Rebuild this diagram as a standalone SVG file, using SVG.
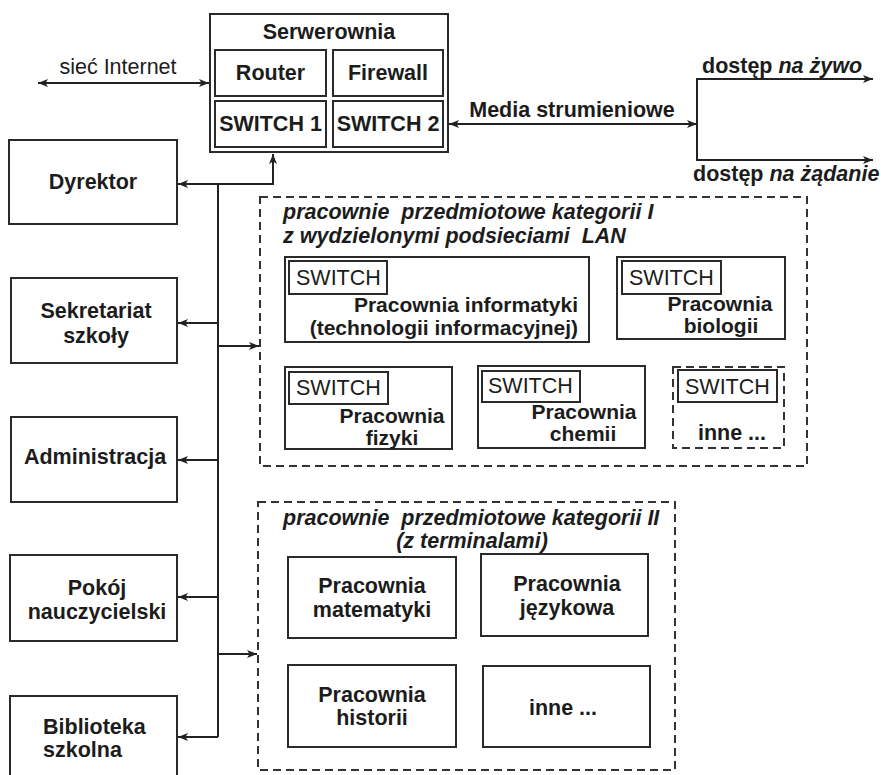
<svg xmlns="http://www.w3.org/2000/svg" width="881" height="775" viewBox="0 0 881 775">
<defs>
<marker id="ah" viewBox="0 0 10 8" refX="10" refY="4" markerWidth="10" markerHeight="8" markerUnits="userSpaceOnUse" orient="auto-start-reverse">
<path d="M0,0 L10,4 L0,8 L2.5,4 Z" fill="#222"/>
</marker>
</defs>
<style>
.box{fill:#fff;stroke:#2a2a2a;stroke-width:2}
.dash{fill:none;stroke:#333;stroke-width:2;stroke-dasharray:8 5}
.ln{fill:none;stroke:#222;stroke-width:2}
text{font-family:"Liberation Sans",Arial,sans-serif;font-size:21.5px;fill:#1c1c1c}
.s{font-size:21px}
.b{font-weight:bold}
.c{text-anchor:middle}
.i{font-style:italic;font-weight:bold}
.r{font-weight:normal}
.pre{white-space:pre}
</style>
<rect width="881" height="775" fill="#fff"/>

<g id="connectors">
<line class="ln" x1="38" y1="83" x2="209" y2="83" marker-start="url(#ah)" marker-end="url(#ah)"/>
<line class="ln" x1="449" y1="124" x2="697" y2="124" marker-start="url(#ah)" marker-end="url(#ah)"/>
<line class="ln" x1="697" y1="79" x2="697" y2="160"/>
<line class="ln" x1="696" y1="79" x2="873" y2="79" marker-end="url(#ah)"/>
<line class="ln" x1="696" y1="160" x2="873" y2="160" marker-end="url(#ah)"/>
<line class="ln" x1="218" y1="184" x2="218" y2="737"/>
<polyline class="ln" points="218,184 273,184 273,154" marker-end="url(#ah)"/>
<line class="ln" x1="218" y1="184" x2="178" y2="184" marker-end="url(#ah)"/>
<line class="ln" x1="218" y1="323" x2="178" y2="323" marker-end="url(#ah)"/>
<line class="ln" x1="218" y1="346" x2="259" y2="346" marker-end="url(#ah)"/>
<line class="ln" x1="218" y1="460" x2="178" y2="460" marker-end="url(#ah)"/>
<line class="ln" x1="218" y1="597" x2="178" y2="597" marker-end="url(#ah)"/>
<line class="ln" x1="218" y1="654" x2="257" y2="654" marker-end="url(#ah)"/>
<line class="ln" x1="218" y1="737" x2="178" y2="737" marker-end="url(#ah)"/>
</g>

<g id="labels">
<text x="118" y="74" class="c">sieć Internet</text>
<text x="572" y="117" class="b c">Media strumieniowe</text>
<text x="702" y="73" class="b">dostęp <tspan class="i">na żywo</tspan></text>
<text x="693" y="181" class="b">dostęp <tspan class="i">na żądanie</tspan></text>
</g>

<g id="serwerownia">
<rect class="box" x="210" y="14" width="238" height="138"/>
<text x="329" y="39" class="b c">Serwerownia</text>
<rect class="box" x="215" y="50" width="111" height="46"/>
<text x="270.5" y="80" class="b c">Router</text>
<rect class="box" x="333" y="50" width="110" height="46"/>
<text x="388" y="80" class="b c">Firewall</text>
<rect class="box" x="215" y="101" width="111" height="46"/>
<text x="270.5" y="131" class="b c">SWITCH 1</text>
<rect class="box" x="333" y="101" width="110" height="46"/>
<text x="388" y="131" class="b c">SWITCH 2</text>
</g>

<g id="dyrektor">
<rect class="box" x="9" y="140" width="168" height="84"/>
<text x="93" y="189" class="b c">Dyrektor</text>
</g>
<g id="sekretariat">
<rect class="box" x="11" y="278" width="166" height="85"/>
<text x="96" y="318" class="b c">Sekretariat</text>
<text x="96" y="343" class="b c">szkoły</text>
</g>
<g id="administracja">
<rect class="box" x="11" y="417" width="166" height="85"/>
<text x="95" y="464" class="b c">Administracja</text>
</g>
<g id="pokoj">
<rect class="box" x="10" y="555" width="167" height="86"/>
<text x="97" y="595" class="b c">Pokój</text>
<text x="97" y="619" class="b c">nauczycielski</text>
</g>
<g id="biblioteka">
<rect class="box" x="10" y="696" width="167" height="90"/>
<text x="43" y="734" class="b">Biblioteka</text>
<text x="43" y="757" class="b">szkolna</text>
</g>

<g id="kategoria1">
<rect class="dash" x="260" y="197" width="547" height="269"/>
<text x="283" y="219" class="i pre" xml:space="preserve">pracownie  przedmiotowe kategorii I</text>
<text x="283" y="243" class="i pre" xml:space="preserve">z wydzielonymi podsieciami  LAN</text>
</g>
<g id="informatyki">
<rect class="box" x="285" y="257" width="304" height="85"/>
<rect class="box" x="289" y="261" width="98" height="33"/>
<text x="296" y="285" class="r">SWITCH</text>
<text x="578" y="312" class="b s" text-anchor="end">Pracownia informatyki</text>
<text x="578" y="335" class="b s" text-anchor="end">(technologii informacyjnej)</text>
</g>
<g id="biologii">
<rect class="box" x="617" y="257" width="168" height="82"/>
<rect class="box" x="622" y="261" width="99" height="33"/>
<text x="629" y="285" class="r">SWITCH</text>
<text x="720" y="311" class="b c s">Pracownia</text>
<text x="721" y="333" class="b c s">biologii</text>
</g>
<g id="fizyki">
<rect class="box" x="285" y="367" width="167" height="82"/>
<rect class="box" x="289" y="372" width="99" height="32"/>
<text x="296" y="395" class="r">SWITCH</text>
<text x="392" y="423" class="b c s">Pracownia</text>
<text x="392" y="445" class="b c s">fizyki</text>
</g>
<g id="chemii">
<rect class="box" x="478" y="366" width="167" height="82"/>
<rect class="box" x="482" y="371" width="98" height="31"/>
<text x="488" y="393" class="r">SWITCH</text>
<text x="584" y="419" class="b c s">Pracownia</text>
<text x="583" y="441" class="b c s">chemii</text>
</g>
<g id="inne1">
<rect class="dash" x="673" y="367" width="111" height="81"/>
<rect class="box" x="678" y="370" width="99" height="32"/>
<text x="685" y="394" class="r">SWITCH</text>
<text x="732" y="440" class="b c">inne ...</text>
</g>

<g id="kategoria2">
<rect class="dash" x="258" y="502" width="417" height="268"/>
<text x="283" y="525" class="i pre" xml:space="preserve">pracownie  przedmiotowe kategorii II</text>
<text x="472" y="548" class="i c">(z terminalami)</text>
</g>
<g id="matematyki">
<rect class="box" x="288" y="557" width="168" height="81"/>
<text x="372" y="593" class="b c">Pracownia</text>
<text x="372" y="617" class="b c">matematyki</text>
</g>
<g id="jezykowa">
<rect class="box" x="481" y="554" width="167" height="82"/>
<text x="567" y="591" class="b c">Pracownia</text>
<text x="567" y="615" class="b c">językowa</text>
</g>
<g id="historii">
<rect class="box" x="288" y="665" width="168" height="82"/>
<text x="372" y="702" class="b c">Pracownia</text>
<text x="372" y="725" class="b c">historii</text>
</g>
<g id="inne2">
<rect class="box" x="483" y="666" width="167" height="81"/>
<text x="563" y="715" class="b c">inne ...</text>
</g>
</svg>
